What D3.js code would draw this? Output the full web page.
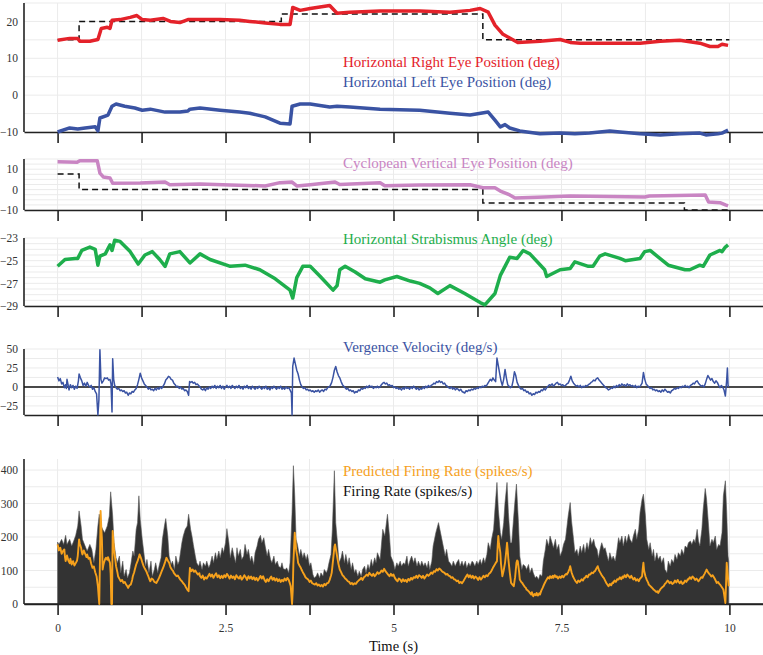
<!DOCTYPE html>
<html><head><meta charset="utf-8">
<script src="https://cdn.jsdelivr.net/npm/d3@7"></script>
<style>html,body{margin:0;padding:0;background:#fff}svg{display:block;font-family:"Liberation Serif","Times New Roman",serif}</style>
</head><body><div id="chart"></div>
<script>
// ---------------- DATA ----------------
const timeTicks = [0,1.25,2.5,3.75,5,6.25,7.5,8.75,10];
const timeLabels = {0:"0",2.5:"2.5",5:"5",7.5:"7.5",10:"10"};

const rightEye = [[0,14.9],[0.18,15.4],[0.30,15.4],[0.33,14.6],[0.48,14.6],[0.60,15.1],[0.65,18.1],[0.74,18.4],[0.78,18.1],[0.81,20.3],[0.93,20.5],[1.08,21.1],[1.18,21.6],[1.26,20.5],[1.38,20.3],[1.57,20.8],[1.68,20.0],[1.82,19.7],[1.94,20.5],[2.42,20.5],[2.71,20.3],[2.86,20.0],[3.09,19.6],[3.31,19.2],[3.46,19.2],[3.50,23.8],[3.61,23.0],[3.76,23.5],[4.05,24.3],[4.16,22.2],[4.35,22.5],[4.80,22.8],[5.39,22.8],[5.84,22.5],[6.14,23.0],[6.29,23.5],[6.41,22.5],[6.51,19.0],[6.63,16.5],[6.73,15.5],[6.85,14.3],[7.18,14.6],[7.48,15.1],[7.63,14.3],[7.78,14.1],[8.67,14.1],[8.97,14.6],[9.26,14.9],[9.56,14.1],[9.71,13.2],[9.83,13.2],[9.89,13.8],[9.98,13.5]];

const leftEye = [[0,-10.0],[0.18,-8.9],[0.30,-9.2],[0.41,-8.9],[0.56,-8.6],[0.60,-9.7],[0.63,-6.2],[0.75,-5.4],[0.81,-3.0],[0.87,-2.4],[1.00,-3.0],[1.15,-3.5],[1.26,-4.1],[1.38,-3.8],[1.60,-4.6],[1.82,-4.6],[1.94,-4.3],[1.97,-3.8],[2.12,-3.5],[2.42,-4.1],[2.71,-4.6],[2.86,-4.9],[3.09,-5.9],[3.31,-7.6],[3.46,-7.8],[3.49,-3.0],[3.61,-2.4],[3.76,-2.4],[4.05,-3.2],[4.16,-3.0],[4.35,-3.2],[4.80,-3.8],[5.39,-4.1],[5.84,-4.9],[6.14,-5.4],[6.41,-4.6],[6.51,-6.8],[6.59,-8.6],[6.66,-8.0],[6.73,-8.9],[6.88,-9.7],[7.18,-10.5],[7.48,-10.3],[7.70,-10.5],[7.92,-10.3],[8.22,-9.7],[8.37,-10.0],[8.67,-10.5],[8.97,-10.8],[9.26,-10.5],[9.56,-10.3],[9.65,-10.8],[9.83,-10.5],[9.89,-10.3],[9.98,-9.5]];

const targetHorizontal = [[0,15],[0.32,20],[3.33,22],[6.33,15],[10,15]];

const cyclopeanVertical = [[0,13.7],[0.29,13.4],[0.33,14.2],[0.59,14.2],[0.63,8.1],[0.68,6.2],[0.78,5.7],[0.82,3.1],[1.23,3.2],[1.60,3.7],[1.67,2.4],[2.12,2.7],[2.57,2.3],[3.09,1.8],[3.31,3.4],[3.49,3.7],[3.56,1.8],[3.76,2.4],[4.13,3.7],[4.20,2.5],[4.80,3.4],[4.87,1.9],[5.39,2.3],[6.14,2.4],[6.33,0.9],[6.51,0.9],[6.59,-0.7],[6.73,-2.6],[6.81,-4.1],[7.25,-3.6],[7.63,-3.1],[8.74,-3.6],[8.81,-3.1],[9.64,-2.6],[9.69,-6.1],[9.86,-6.4],[9.94,-7.5],[9.98,-8.0]];

const targetVertical = [[0,7.6],[0.32,0],[6.33,-6.6],[9.33,-10],[10,-10]];

const strabismus = [[0,-25.5],[0.11,-24.9],[0.26,-24.8],[0.30,-24.8],[0.36,-24.1],[0.48,-23.8],[0.56,-24.0],[0.60,-25.4],[0.63,-24.6],[0.71,-24.4],[0.78,-23.6],[0.81,-24.1],[0.85,-23.2],[0.93,-23.3],[1.08,-24.2],[1.20,-25.3],[1.30,-24.5],[1.41,-24.2],[1.52,-24.9],[1.60,-25.5],[1.67,-24.4],[1.82,-24.2],[1.97,-25.2],[2.12,-24.4],[2.27,-24.9],[2.57,-25.5],[2.79,-25.4],[3.01,-25.8],[3.24,-26.6],[3.46,-27.6],[3.50,-28.3],[3.56,-26.5],[3.65,-25.5],[3.76,-25.5],[3.91,-26.4],[4.10,-27.6],[4.16,-27.2],[4.20,-25.8],[4.28,-25.5],[4.43,-26.0],[4.58,-26.6],[4.80,-26.9],[4.87,-26.7],[5.05,-26.4],[5.25,-26.8],[5.39,-27.0],[5.54,-27.4],[5.66,-27.9],[5.84,-27.2],[6.06,-27.9],[6.29,-28.7],[6.36,-28.9],[6.51,-27.9],[6.59,-26.3],[6.66,-25.5],[6.73,-24.7],[6.84,-24.8],[6.93,-24.1],[7.03,-24.4],[7.25,-25.8],[7.28,-26.4],[7.48,-25.8],[7.63,-25.7],[7.70,-25.1],[7.90,-25.5],[7.97,-25.5],[8.07,-24.6],[8.15,-24.4],[8.37,-24.8],[8.45,-25.0],[8.67,-24.8],[8.74,-24.2],[8.82,-24.1],[9.09,-25.4],[9.34,-25.8],[9.41,-25.8],[9.56,-25.4],[9.61,-25.5],[9.71,-24.5],[9.86,-24.1],[9.89,-24.2],[9.94,-23.8],[9.98,-23.6]];

const vergenceVelocity = [[0.00,13],[0.02,8],[0.04,11],[0.06,4],[0.08,6],[0.10,-1],[0.12,3],[0.13,-2],[0.14,10],[0.16,1],[0.17,-4],[0.19,3],[0.21,-1],[0.23,2],[0.25,-3],[0.27,1],[0.29,-2],[0.31,8],[0.32,17],[0.34,12],[0.36,8],[0.38,2],[0.40,5],[0.42,1],[0.44,6],[0.46,2],[0.48,0],[0.50,2],[0.52,-3],[0.54,-1],[0.56,-6],[0.58,-9],[0.60,-37],[0.615,-17],[0.63,49],[0.645,10],[0.66,5],[0.68,8],[0.70,12],[0.72,11],[0.74,12],[0.76,9],[0.78,10],[0.795,4],[0.81,-33],[0.82,37],[0.835,10],[0.85,2],[0.87,-1],[0.89,-3],[0.91,-2],[0.93,-5],[0.95,-4],[0.97,-6],[0.99,-5],[1.01,-8],[1.03,-7],[1.05,-11],[1.07,-8],[1.09,-9],[1.11,-6],[1.13,-7],[1.15,-4],[1.17,-2],[1.19,3],[1.21,10],[1.23,18],[1.25,12],[1.27,8],[1.29,4],[1.31,2],[1.33,0],[1.35,-3],[1.37,-1],[1.39,-4],[1.41,-3],[1.43,-5],[1.45,-2],[1.47,-4],[1.49,-1],[1.51,-3],[1.53,0],[1.55,-2],[1.57,1],[1.59,4],[1.61,9],[1.63,11],[1.65,14],[1.67,13],[1.69,10],[1.71,9],[1.73,5],[1.75,3],[1.77,0],[1.79,1],[1.81,-2],[1.83,0],[1.85,-3],[1.87,-2],[1.89,-5],[1.91,-4],[1.93,-6],[1.95,-11],[1.965,7],[1.98,6],[2.00,7],[2.02,5],[2.04,6],[2.06,3],[2.08,4],[2.10,2],[2.12,0],[2.14,-3],[2.16,-4],[2.18,-2],[2.20,-5],[2.22,-1],[2.24,-3],[2.26,0],[2.28,-2],[2.30,1],[2.32,-1],[2.34,2],[2.36,-2],[2.38,1],[2.40,-1],[2.42,2],[2.44,-2],[2.46,1],[2.48,-3],[2.50,0],[2.52,2],[2.54,-1],[2.56,1],[2.58,-2],[2.60,2],[2.62,0],[2.64,-2],[2.66,1],[2.68,-1],[2.70,2],[2.72,-2],[2.74,0],[2.76,-3],[2.78,1],[2.80,-1],[2.82,2],[2.84,-2],[2.86,0],[2.88,-3],[2.90,1],[2.92,-1],[2.94,-3],[2.96,0],[2.98,-2],[3.00,1],[3.02,-1],[3.04,-3],[3.06,0],[3.08,-2],[3.10,1],[3.12,-3],[3.14,-1],[3.16,-4],[3.18,0],[3.20,-2],[3.22,1],[3.24,-1],[3.26,-3],[3.28,0],[3.30,-2],[3.32,1],[3.34,-3],[3.36,-1],[3.38,-3],[3.40,0],[3.42,-2],[3.44,-1],[3.46,-4],[3.48,-8],[3.49,-37],[3.50,27],[3.52,38],[3.54,30],[3.56,22],[3.58,17],[3.60,9],[3.62,3],[3.64,0],[3.66,-2],[3.68,-1],[3.70,-4],[3.72,-3],[3.74,-5],[3.76,-4],[3.78,-6],[3.80,-5],[3.82,-7],[3.84,-5],[3.86,-6],[3.88,-4],[3.90,-7],[3.92,-5],[3.94,-4],[3.96,-6],[3.98,-3],[4.00,-4],[4.02,-1],[4.04,0],[4.06,2],[4.08,6],[4.10,13],[4.12,22],[4.14,27],[4.16,20],[4.18,15],[4.20,12],[4.22,7],[4.24,3],[4.26,1],[4.28,-1],[4.30,-3],[4.32,-2],[4.34,-5],[4.36,-4],[4.38,-6],[4.40,-5],[4.42,-8],[4.44,-6],[4.46,-7],[4.48,-4],[4.50,-5],[4.52,-2],[4.54,-3],[4.56,-1],[4.58,-2],[4.60,1],[4.62,-1],[4.64,2],[4.66,0],[4.68,1],[4.70,-2],[4.72,0],[4.74,-1],[4.76,1],[4.78,-1],[4.80,0],[4.82,3],[4.84,5],[4.86,6],[4.88,4],[4.90,5],[4.92,2],[4.94,3],[4.96,1],[4.98,2],[5.00,-1],[5.02,0],[5.04,-2],[5.06,-1],[5.08,-3],[5.10,-2],[5.12,-4],[5.14,-1],[5.16,-3],[5.18,0],[5.20,-2],[5.22,-1],[5.24,-3],[5.26,0],[5.28,-2],[5.30,1],[5.32,-1],[5.34,-3],[5.36,-1],[5.38,-4],[5.40,-2],[5.42,-3],[5.44,0],[5.46,-2],[5.48,1],[5.50,-1],[5.52,2],[5.54,0],[5.56,2],[5.58,3],[5.60,5],[5.62,4],[5.64,7],[5.66,6],[5.68,8],[5.70,6],[5.72,7],[5.74,4],[5.76,5],[5.78,2],[5.80,1],[5.82,-1],[5.84,-2],[5.86,0],[5.88,-3],[5.90,-1],[5.92,-4],[5.94,-2],[5.96,-3],[5.98,-5],[6.00,-3],[6.02,-6],[6.04,-7],[6.06,-8],[6.08,-5],[6.10,-6],[6.12,-4],[6.14,-5],[6.16,-3],[6.18,-4],[6.20,-2],[6.22,-3],[6.24,-1],[6.26,-2],[6.28,0],[6.30,-1],[6.32,1],[6.34,0],[6.36,2],[6.38,1],[6.40,4],[6.42,7],[6.44,10],[6.46,8],[6.48,12],[6.50,9],[6.52,7],[6.54,38],[6.56,28],[6.58,18],[6.60,8],[6.62,2],[6.64,10],[6.66,23],[6.68,12],[6.70,3],[6.72,1],[6.74,-1],[6.76,0],[6.78,8],[6.80,20],[6.82,15],[6.84,6],[6.86,2],[6.88,-1],[6.90,-3],[6.92,-2],[6.94,-5],[6.96,-4],[6.98,-7],[7.00,-6],[7.02,-9],[7.04,-8],[7.06,-11],[7.08,-9],[7.10,-10],[7.12,-7],[7.14,-8],[7.16,-6],[7.18,-7],[7.20,-4],[7.22,-5],[7.24,-2],[7.26,-4],[7.28,-1],[7.30,1],[7.32,3],[7.34,2],[7.36,4],[7.38,1],[7.40,3],[7.42,5],[7.44,6],[7.46,3],[7.48,4],[7.50,2],[7.52,3],[7.54,1],[7.56,2],[7.58,4],[7.60,5],[7.62,9],[7.64,14],[7.66,8],[7.68,5],[7.70,3],[7.72,1],[7.74,2],[7.76,0],[7.78,2],[7.80,-1],[7.82,1],[7.84,0],[7.86,2],[7.88,1],[7.90,3],[7.92,4],[7.94,6],[7.96,7],[7.98,9],[8.00,8],[8.02,11],[8.04,12],[8.06,9],[8.08,7],[8.10,5],[8.12,3],[8.14,1],[8.16,-1],[8.18,-2],[8.20,-4],[8.22,-3],[8.24,-1],[8.26,-2],[8.28,1],[8.30,-1],[8.32,2],[8.34,0],[8.36,3],[8.38,1],[8.40,4],[8.42,2],[8.44,3],[8.46,1],[8.48,4],[8.50,2],[8.52,3],[8.54,1],[8.56,2],[8.58,0],[8.60,2],[8.62,-1],[8.64,1],[8.66,0],[8.68,2],[8.70,5],[8.72,19],[8.74,10],[8.76,4],[8.78,2],[8.80,0],[8.82,-2],[8.84,-1],[8.86,-4],[8.88,-3],[8.90,-5],[8.92,-4],[8.94,-6],[8.96,-5],[8.98,-7],[9.00,-4],[9.02,-6],[9.04,-3],[9.06,-5],[9.08,-7],[9.10,-6],[9.12,-8],[9.14,-5],[9.16,-4],[9.18,-2],[9.20,-3],[9.22,-1],[9.24,-2],[9.26,0],[9.28,-1],[9.30,1],[9.32,0],[9.34,2],[9.36,0],[9.38,1],[9.40,-1],[9.42,2],[9.44,3],[9.46,5],[9.48,4],[9.50,7],[9.52,8],[9.54,5],[9.56,3],[9.58,1],[9.60,2],[9.62,0],[9.64,4],[9.66,10],[9.68,15],[9.70,12],[9.72,9],[9.74,11],[9.76,7],[9.78,5],[9.80,8],[9.82,6],[9.84,2],[9.86,-1],[9.88,2],[9.90,0],[9.92,-4],[9.94,-12],[9.96,10],[9.97,25],[9.98,2],[9.99,0]];

const firingRate = [[0,185],[0.02,178],[0.06,193],[0.09,178],[0.12,205],[0.14,178],[0.18,193],[0.21,173],[0.24,188],[0.27,205],[0.30,233],[0.32,278],[0.35,233],[0.37,193],[0.41,173],[0.44,158],[0.48,178],[0.51,163],[0.54,123],[0.57,163],[0.60,233],[0.62,268],[0.65,233],[0.67,223],[0.70,213],[0.74,233],[0.77,263],[0.79,335],[0.82,263],[0.84,183],[0.87,138],[0.89,123],[0.92,143],[0.94,93],[0.97,128],[0.99,83],[1.02,103],[1.04,78],[1.07,93],[1.09,118],[1.12,158],[1.14,143],[1.17,223],[1.19,243],[1.21,323],[1.23,253],[1.26,193],[1.29,143],[1.31,113],[1.33,133],[1.36,93],[1.39,128],[1.41,83],[1.44,103],[1.46,123],[1.49,93],[1.51,113],[1.54,138],[1.56,193],[1.59,233],[1.61,255],[1.64,203],[1.66,143],[1.69,118],[1.71,128],[1.74,103],[1.76,143],[1.79,118],[1.81,128],[1.85,183],[1.87,203],[1.90,223],[1.93,233],[1.95,268],[1.98,223],[2.00,203],[2.02,178],[2.05,143],[2.07,123],[2.10,113],[2.12,128],[2.15,103],[2.17,123],[2.20,113],[2.22,128],[2.25,108],[2.27,118],[2.30,143],[2.32,123],[2.35,153],[2.37,133],[2.40,158],[2.42,138],[2.45,168],[2.47,153],[2.50,183],[2.52,225],[2.55,183],[2.57,138],[2.60,168],[2.62,148],[2.65,123],[2.67,168],[2.69,143],[2.72,163],[2.74,133],[2.77,143],[2.79,178],[2.82,148],[2.84,163],[2.87,128],[2.89,143],[2.92,118],[2.94,153],[2.97,173],[2.99,193],[3.02,205],[3.04,183],[3.07,198],[3.09,173],[3.12,143],[3.14,163],[3.17,133],[3.19,123],[3.22,143],[3.24,118],[3.27,128],[3.29,113],[3.32,108],[3.34,123],[3.36,105],[3.39,103],[3.41,108],[3.44,93],[3.46,123],[3.49,273],[3.51,413],[3.53,323],[3.55,193],[3.57,178],[3.60,143],[3.62,163],[3.65,138],[3.67,153],[3.70,133],[3.72,148],[3.75,113],[3.77,123],[3.80,88],[3.82,78],[3.85,83],[3.87,93],[3.90,78],[3.92,93],[3.95,83],[3.97,103],[4.00,93],[4.02,103],[4.04,123],[4.07,148],[4.09,223],[4.12,398],[4.14,243],[4.17,173],[4.19,123],[4.22,138],[4.24,158],[4.27,123],[4.29,148],[4.32,118],[4.34,138],[4.37,103],[4.39,123],[4.42,93],[4.44,103],[4.47,83],[4.49,98],[4.52,83],[4.54,103],[4.57,113],[4.59,93],[4.62,118],[4.64,103],[4.67,133],[4.69,113],[4.72,138],[4.74,123],[4.76,153],[4.80,133],[4.81,153],[4.84,223],[4.87,203],[4.91,268],[4.94,203],[4.96,143],[5.00,123],[5.02,103],[5.05,123],[5.07,113],[5.10,128],[5.12,113],[5.15,123],[5.17,118],[5.20,143],[5.22,113],[5.25,133],[5.27,143],[5.30,123],[5.32,138],[5.35,113],[5.37,128],[5.40,113],[5.42,128],[5.45,113],[5.47,123],[5.50,108],[5.52,128],[5.54,103],[5.57,128],[5.59,173],[5.63,213],[5.67,243],[5.69,223],[5.72,193],[5.74,173],[5.77,143],[5.79,163],[5.82,128],[5.84,123],[5.87,113],[5.89,128],[5.92,113],[5.94,123],[5.97,133],[5.99,113],[6.02,128],[6.04,113],[6.07,128],[6.09,108],[6.12,123],[6.14,113],[6.17,128],[6.19,123],[6.21,113],[6.24,128],[6.26,118],[6.29,133],[6.31,118],[6.34,138],[6.36,123],[6.39,148],[6.41,183],[6.44,163],[6.46,193],[6.49,223],[6.51,283],[6.54,363],[6.56,283],[6.59,213],[6.61,193],[6.64,243],[6.66,303],[6.69,363],[6.71,273],[6.74,183],[6.76,183],[6.79,263],[6.81,313],[6.83,358],[6.86,243],[6.88,143],[6.91,103],[6.93,118],[6.96,113],[6.98,103],[7.01,118],[7.03,93],[7.06,108],[7.08,93],[7.11,78],[7.13,83],[7.16,73],[7.18,88],[7.21,83],[7.23,128],[7.26,163],[7.28,193],[7.31,173],[7.33,203],[7.36,183],[7.38,168],[7.41,193],[7.43,163],[7.46,178],[7.48,143],[7.51,158],[7.53,178],[7.56,193],[7.58,228],[7.60,263],[7.63,303],[7.65,248],[7.68,193],[7.70,153],[7.73,163],[7.75,143],[7.78,173],[7.80,153],[7.83,178],[7.85,153],[7.88,183],[7.90,163],[7.93,198],[7.95,178],[7.98,193],[8.00,173],[8.03,163],[8.05,138],[8.08,168],[8.10,183],[8.13,163],[8.15,168],[8.18,143],[8.20,128],[8.22,153],[8.25,133],[8.27,143],[8.30,128],[8.32,153],[8.35,198],[8.37,183],[8.40,203],[8.42,173],[8.45,203],[8.47,183],[8.50,208],[8.52,193],[8.55,183],[8.57,203],[8.60,223],[8.62,193],[8.65,223],[8.67,273],[8.70,313],[8.72,328],[8.75,263],[8.77,193],[8.80,163],[8.82,183],[8.85,143],[8.87,163],[8.89,128],[8.92,153],[8.94,133],[8.97,143],[8.99,123],[9.02,138],[9.04,103],[9.07,93],[9.09,128],[9.12,113],[9.14,133],[9.17,123],[9.19,148],[9.22,133],[9.24,153],[9.27,143],[9.29,163],[9.32,148],[9.34,173],[9.37,168],[9.39,183],[9.42,188],[9.44,178],[9.47,193],[9.49,183],[9.52,223],[9.54,188],[9.56,173],[9.59,223],[9.61,283],[9.64,345],[9.66,313],[9.69,233],[9.71,173],[9.74,193],[9.76,183],[9.79,203],[9.81,163],[9.84,178],[9.86,173],[9.89,213],[9.91,323],[9.94,368],[9.96,273],[9.98,143],[9.99,128]];

const predictedRate = [[0.00,178],[0.02,160],[0.04,168],[0.06,150],[0.08,158],[0.10,163],[0.11,140],[0.12,128],[0.14,145],[0.16,130],[0.18,122],[0.19,135],[0.21,118],[0.23,128],[0.25,115],[0.27,122],[0.29,130],[0.30,143],[0.32,193],[0.33,180],[0.35,168],[0.36,155],[0.37,148],[0.39,160],[0.41,150],[0.43,140],[0.44,148],[0.46,135],[0.48,138],[0.50,120],[0.52,108],[0.54,112],[0.56,95],[0.58,83],[0.60,53],[0.62,0],[0.63,123],[0.64,278],[0.65,230],[0.66,193],[0.67,103],[0.68,115],[0.69,123],[0.71,135],[0.72,138],[0.74,132],[0.75,140],[0.77,128],[0.78,123],[0.79,90],[0.80,0],[0.81,0],[0.82,218],[0.83,190],[0.84,163],[0.86,130],[0.87,113],[0.89,95],[0.90,83],[0.92,75],[0.94,68],[0.96,72],[0.98,63],[1.00,66],[1.02,58],[1.04,52],[1.05,48],[1.07,56],[1.09,58],[1.11,72],[1.12,83],[1.14,95],[1.15,103],[1.17,118],[1.19,128],[1.21,140],[1.22,148],[1.24,138],[1.26,125],[1.28,113],[1.30,105],[1.32,98],[1.34,88],[1.35,83],[1.37,72],[1.38,68],[1.40,76],[1.42,73],[1.44,66],[1.47,63],[1.49,70],[1.51,78],[1.53,88],[1.55,98],[1.57,108],[1.58,113],[1.60,125],[1.62,138],[1.64,130],[1.66,123],[1.68,110],[1.70,103],[1.72,98],[1.73,93],[1.75,88],[1.77,83],[1.79,85],[1.81,78],[1.83,72],[1.85,68],[1.87,62],[1.89,58],[1.91,50],[1.93,43],[1.95,38],[1.96,75],[1.97,108],[1.99,98],[2.01,103],[2.03,96],[2.05,100],[2.07,93],[2.09,88],[2.11,92],[2.12,83],[2.14,78],[2.16,85],[2.18,73],[2.20,80],[2.22,76],[2.24,83],[2.26,90],[2.28,82],[2.30,88],[2.32,78],[2.34,86],[2.36,92],[2.38,80],[2.40,86],[2.42,77],[2.44,84],[2.46,78],[2.48,86],[2.50,80],[2.52,90],[2.54,84],[2.56,76],[2.58,85],[2.60,78],[2.62,82],[2.64,74],[2.66,86],[2.68,80],[2.70,76],[2.72,84],[2.74,73],[2.76,78],[2.78,86],[2.80,80],[2.82,72],[2.84,83],[2.86,76],[2.88,82],[2.90,74],[2.92,80],[2.94,72],[2.96,78],[2.98,70],[3.00,76],[3.02,84],[3.04,76],[3.06,83],[3.08,72],[3.10,66],[3.12,74],[3.14,68],[3.16,76],[3.18,82],[3.20,72],[3.22,78],[3.24,70],[3.26,76],[3.28,68],[3.30,74],[3.32,66],[3.34,72],[3.36,68],[3.38,76],[3.40,70],[3.42,78],[3.44,72],[3.46,60],[3.47,53],[3.49,0],[3.50,40],[3.51,123],[3.53,213],[3.54,190],[3.55,163],[3.57,140],[3.58,123],[3.60,115],[3.62,108],[3.63,103],[3.65,95],[3.67,88],[3.69,80],[3.71,76],[3.73,73],[3.75,66],[3.77,70],[3.79,62],[3.81,60],[3.83,58],[3.85,62],[3.87,55],[3.89,58],[3.91,53],[3.93,57],[3.95,52],[3.97,60],[3.99,56],[4.01,62],[4.03,63],[4.05,72],[4.07,85],[4.08,93],[4.10,130],[4.12,170],[4.13,178],[4.15,155],[4.16,143],[4.18,120],[4.20,103],[4.22,95],[4.24,86],[4.26,82],[4.28,76],[4.30,73],[4.32,68],[4.34,66],[4.36,60],[4.38,63],[4.40,58],[4.42,62],[4.44,60],[4.46,66],[4.48,70],[4.50,73],[4.52,78],[4.54,72],[4.56,80],[4.58,83],[4.60,88],[4.62,84],[4.64,93],[4.66,88],[4.68,84],[4.70,90],[4.72,83],[4.74,88],[4.76,95],[4.78,90],[4.80,93],[4.82,100],[4.84,96],[4.86,105],[4.88,98],[4.90,93],[4.92,88],[4.94,83],[4.96,90],[4.98,84],[5.00,88],[5.02,78],[5.04,72],[5.06,68],[5.08,76],[5.10,73],[5.12,66],[5.14,74],[5.16,68],[5.18,72],[5.20,66],[5.22,75],[5.24,70],[5.26,78],[5.28,73],[5.30,80],[5.32,78],[5.34,84],[5.36,78],[5.38,86],[5.40,83],[5.42,78],[5.44,84],[5.46,76],[5.48,82],[5.50,88],[5.52,84],[5.54,88],[5.56,94],[5.58,90],[5.60,98],[5.62,96],[5.64,104],[5.66,100],[5.68,106],[5.70,103],[5.72,98],[5.74,95],[5.76,93],[5.78,88],[5.80,90],[5.82,85],[5.84,83],[5.86,78],[5.88,80],[5.90,74],[5.92,73],[5.94,68],[5.96,70],[5.98,63],[6.00,66],[6.02,62],[6.04,68],[6.06,75],[6.08,82],[6.10,88],[6.12,80],[6.14,86],[6.16,78],[6.18,84],[6.20,76],[6.22,82],[6.24,78],[6.26,72],[6.28,80],[6.30,73],[6.32,78],[6.34,84],[6.36,80],[6.38,86],[6.40,83],[6.42,90],[6.44,93],[6.46,100],[6.48,108],[6.50,115],[6.52,122],[6.54,128],[6.55,170],[6.56,203],[6.57,180],[6.59,153],[6.60,120],[6.62,83],[6.64,100],[6.66,123],[6.68,160],[6.69,183],[6.70,160],[6.71,133],[6.73,95],[6.75,63],[6.77,58],[6.79,53],[6.81,80],[6.83,123],[6.84,130],[6.85,128],[6.87,95],[6.88,73],[6.90,66],[6.92,62],[6.93,58],[6.95,52],[6.97,48],[6.98,43],[7.00,40],[7.02,36],[7.03,33],[7.05,28],[7.06,35],[7.08,23],[7.10,30],[7.12,26],[7.13,33],[7.15,25],[7.17,32],[7.18,28],[7.20,40],[7.22,48],[7.23,53],[7.25,62],[7.27,70],[7.28,73],[7.30,80],[7.32,76],[7.33,83],[7.35,78],[7.37,84],[7.38,78],[7.40,86],[7.42,80],[7.43,83],[7.45,76],[7.47,82],[7.49,78],[7.51,84],[7.53,80],[7.55,86],[7.57,90],[7.58,88],[7.60,95],[7.62,105],[7.63,113],[7.65,95],[7.67,83],[7.69,75],[7.71,68],[7.73,63],[7.75,70],[7.77,66],[7.78,68],[7.80,74],[7.82,70],[7.84,78],[7.85,78],[7.87,84],[7.89,80],[7.91,88],[7.93,88],[7.95,94],[7.97,92],[7.99,98],[8.00,98],[8.02,106],[8.04,113],[8.06,100],[8.08,93],[8.10,86],[8.12,80],[8.13,78],[8.15,70],[8.17,62],[8.19,56],[8.20,53],[8.22,60],[8.24,56],[8.26,64],[8.27,63],[8.29,70],[8.31,66],[8.33,74],[8.35,73],[8.37,80],[8.39,74],[8.41,82],[8.42,78],[8.44,86],[8.46,80],[8.48,88],[8.50,83],[8.52,78],[8.54,84],[8.56,76],[8.57,73],[8.59,78],[8.61,70],[8.63,74],[8.65,68],[8.67,76],[8.69,80],[8.70,83],[8.71,105],[8.72,123],[8.73,100],[8.75,83],[8.77,72],[8.79,64],[8.80,58],[8.82,54],[8.84,50],[8.86,46],[8.87,43],[8.89,40],[8.91,36],[8.93,38],[8.94,33],[8.96,40],[8.98,46],[9.00,50],[9.02,53],[9.04,60],[9.06,64],[9.08,70],[9.09,68],[9.11,62],[9.13,66],[9.15,60],[9.17,63],[9.19,70],[9.21,64],[9.23,72],[9.24,68],[9.26,62],[9.28,68],[9.30,60],[9.32,63],[9.34,70],[9.36,66],[9.38,74],[9.39,73],[9.41,80],[9.43,75],[9.45,82],[9.47,78],[9.49,72],[9.51,76],[9.53,70],[9.54,68],[9.56,74],[9.58,80],[9.60,78],[9.61,83],[9.63,90],[9.65,98],[9.66,103],[9.68,95],[9.70,90],[9.71,88],[9.73,82],[9.75,86],[9.76,83],[9.78,76],[9.80,68],[9.81,63],[9.83,66],[9.85,60],[9.86,58],[9.88,52],[9.90,46],[9.91,43],[9.92,30],[9.94,3],[9.95,60],[9.96,123],[9.97,100],[9.99,53]];

const labelsText = {
  right: "Horizontal Right Eye Position (deg)",
  left: "Horizontal Left Eye Position (deg)",
  cyclo: "Cyclopean Vertical Eye Position (deg)",
  strab: "Horizontal Strabismus Angle (deg)",
  verg: "Vergence Velocity (deg/s)",
  pred: "Predicted Firing Rate (spikes/s)",
  fr: "Firing Rate (spikes/s)",
  xTitle: "Time (s)"
};

// ---------------- LAYOUT / STYLE ----------------
const W = 763, H = 655;
const FONT = "'Liberation Serif','Times New Roman',Times,serif";
const C = {red:"#e4222a", blue:"#3a53a3", pink:"#c985c3", green:"#1eae4c", orange:"#f6a11c", dark:"#333333", grid:"#ebebeb"};
const x = d3.scaleLinear().domain([-0.5, 10.5]).range([24, 763]);

const panels = [
  {top:3,   bottom:132, domain:[-10,25],  ticks:[-10,0,10,20],       grid:[-10,25,5]},
  {top:159, bottom:210, domain:[-10,15],  ticks:[-10,0,10],          grid:[-10,15,2.5]},
  {top:238, bottom:306, domain:[-29,-23], ticks:[-29,-27,-25,-23],   grid:[-29,-23,0.5]},
  {top:349, bottom:415, domain:[-37,50],  ticks:[-25,0,25,50],       grid:[-37.5,50,12.5], zero:true},
  {top:459, bottom:604, domain:[0,433],   ticks:[0,100,200,300,400], grid:[0,433,50]}
];

const svg = d3.select("#chart").append("svg").attr("width", W).attr("height", H);
const fmt = v => (v < 0 ? "\u2212" + Math.abs(v) : String(v));

panels.forEach((p, i) => {
  p.y = d3.scaleLinear().domain(p.domain).range([p.bottom, p.top]);
  const g = svg.append("g");
  const gv = d3.range(p.grid[0], p.grid[1] + 1e-6, p.grid[2]).filter(v => v >= p.domain[0] - 1e-6 && v <= p.domain[1] + 1e-6);
  g.selectAll(".hg").data(gv).join("line")
    .attr("x1", x.range()[0]).attr("x2", x.range()[1])
    .attr("y1", d => p.y(d)).attr("y2", d => p.y(d))
    .attr("stroke", C.grid).attr("stroke-width", 1);
  g.selectAll(".vg").data(timeTicks).join("line")
    .attr("x1", d => x(d)).attr("x2", d => x(d))
    .attr("y1", p.top).attr("y2", p.bottom)
    .attr("stroke", C.grid).attr("stroke-width", 1);
  const ya = svg.append("g").attr("transform", `translate(${x.range()[0]},0)`)
    .call(d3.axisLeft(p.y).tickValues(p.ticks).tickSize(0).tickPadding(6).tickFormat(fmt));
  ya.select(".domain").remove();
  ya.selectAll("text").style("font-family", FONT).style("font-size", "11.5px").attr("fill", "#333");
  svg.append("line").attr("x1", x.range()[0]).attr("x2", x.range()[0]).attr("y1", p.top).attr("y2", p.bottom)
    .attr("stroke", "#222").attr("stroke-width", 1.6);
  const xa = svg.append("g").attr("transform", `translate(0,${p.bottom})`)
    .call(d3.axisBottom(x).tickValues(timeTicks).tickSizeInner(11).tickSizeOuter(0).tickPadding(9)
      .tickFormat(d => (i === panels.length - 1 && timeLabels[d] !== undefined) ? timeLabels[d] : ""));
  xa.select(".domain").attr("stroke", "#222").attr("stroke-width", 1.6);
  xa.selectAll(".tick line").attr("stroke", "#222").attr("stroke-width", 1.6);
  xa.selectAll("text").style("font-family", FONT).style("font-size", "11.5px").attr("fill", "#333");
  if (p.zero) {
    svg.append("line").attr("x1", x.range()[0]).attr("x2", x.range()[1]).attr("y1", p.y(0)).attr("y2", p.y(0))
      .attr("stroke", "#111").attr("stroke-width", 1.6);
  }
});

const lineOf = (p, curve) => d3.line().x(d => x(d[0])).y(d => p.y(d[1])).curve(curve || d3.curveLinear);

const P1 = panels[0];
svg.append("path").datum(targetHorizontal).attr("d", lineOf(P1, d3.curveStepAfter))
  .attr("fill", "none").attr("stroke", "#111").attr("stroke-width", 1.5).attr("stroke-dasharray", "6,4");
svg.append("path").datum(rightEye).attr("d", lineOf(P1)).attr("fill", "none").attr("stroke", C.red).attr("stroke-width", 3.5).attr("stroke-linejoin", "round");
svg.append("path").datum(leftEye).attr("d", lineOf(P1)).attr("fill", "none").attr("stroke", C.blue).attr("stroke-width", 3.5).attr("stroke-linejoin", "round");

const P2 = panels[1];
svg.append("path").datum(targetVertical).attr("d", lineOf(P2, d3.curveStepAfter))
  .attr("fill", "none").attr("stroke", "#111").attr("stroke-width", 1.5).attr("stroke-dasharray", "6,4");
svg.append("path").datum(cyclopeanVertical).attr("d", lineOf(P2)).attr("fill", "none").attr("stroke", C.pink).attr("stroke-width", 3.5).attr("stroke-linejoin", "round");

const P3 = panels[2];
svg.append("path").datum(strabismus).attr("d", lineOf(P3)).attr("fill", "none").attr("stroke", C.green).attr("stroke-width", 3.5).attr("stroke-linejoin", "round");

const P4 = panels[3];
svg.append("path").datum(vergenceVelocity).attr("d", lineOf(P4)).attr("fill", "none").attr("stroke", C.blue).attr("stroke-width", 1.5).attr("stroke-linejoin", "round");

const P5 = panels[4];
const area = d3.area().x(d => x(d[0])).y0(P5.y(0)).y1(d => P5.y(d[1]));
svg.append("path").datum(firingRate).attr("d", area).attr("fill", C.dark).attr("stroke", "#555").attr("stroke-width", 0.6);
svg.append("line").attr("x1", x.range()[0]).attr("x2", x.range()[1]).attr("y1", P5.bottom).attr("y2", P5.bottom).attr("stroke", "#222").attr("stroke-width", 1.6);
svg.append("path").datum(predictedRate).attr("d", lineOf(P5)).attr("fill", "none").attr("stroke", C.orange).attr("stroke-width", 1.9).attr("stroke-linejoin", "round");

const ann = [
  [labelsText.right, 67, C.red], [labelsText.left, 87, C.blue], [labelsText.cyclo, 168, C.pink],
  [labelsText.strab, 244, C.green], [labelsText.verg, 352, C.blue], [labelsText.pred, 476, C.orange], [labelsText.fr, 496, "#111"]
];
svg.selectAll(".ann").data(ann).join("text")
  .attr("x", 343).attr("y", d => d[1]).attr("fill", d => d[2])
  .style("font-family", FONT).style("font-size", "15px").text(d => d[0]);

svg.append("text").attr("x", x(5)).attr("y", 651).attr("text-anchor", "middle")
  .style("font-family", FONT).style("font-size", "14.5px").attr("fill", "#111").text(labelsText.xTitle);
</script></body></html>
